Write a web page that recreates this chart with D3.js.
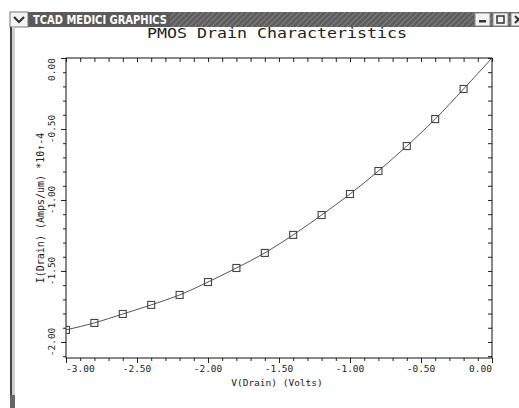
<!DOCTYPE html>
<html>
<head>
<meta charset="utf-8">
<script src="https://cdn.jsdelivr.net/npm/d3@7"></script>
<style>
  html, body { margin: 0; padding: 0; background: #fff; }
  svg { display: block; }
</style>
</head>
<body>
<svg id="chart" width="519" height="408"></svg>
<script>
// Drain voltage sweep (V) and simulated drain current (A/um, in units of 1e-4)
const drainVoltage = [-3.0, -2.8, -2.6, -2.4, -2.2, -2.0, -1.8, -1.6, -1.4, -1.2, -1.0, -0.8, -0.6, -0.4, -0.2, 0.0];
const drainCurrent = [-1.915, -1.866, -1.803, -1.739, -1.669, -1.578, -1.479, -1.373, -1.246, -1.106, -0.958, -0.796, -0.620, -0.430, -0.218, 0.0];

const xMajorTicks = [-3.0, -2.5, -2.0, -1.5, -1.0, -0.5, 0.0];
const yMajorTicks = [0.0, -0.5, -1.0, -1.5, -2.0];

const chartTitle = "PMOS Drain Characteristics";
const xTitle = "V(Drain) (Volts)";
const yTitle = "I(Drain) (Amps/um) *10\u2191-4";
const windowTitle = "TCAD MEDICI GRAPHICS";

const svg = d3.select("#chart");
const W = 519, H = 408;
const plot = { left: 66, right: 492, top: 58, bottom: 358 };
const mono = "'DejaVu Sans Mono', 'Liberation Mono', monospace";

// ---- window frame ----
const defs = svg.append("defs");
const hatch = defs.append("pattern")
  .attr("id", "hatch").attr("width", 4).attr("height", 4)
  .attr("patternUnits", "userSpaceOnUse")
  .attr("patternTransform", "rotate(45)");
hatch.append("rect").attr("width", 4).attr("height", 4).attr("fill", "#5e5e5e");
hatch.append("line").attr("x1", 0).attr("y1", 0).attr("x2", 0).attr("y2", 4)
  .attr("stroke", "#8c8c8c").attr("stroke-width", 1.5);

const bar = svg.append("g");
bar.append("rect").attr("x", 10).attr("y", 12).attr("width", W - 10).attr("height", 15).attr("fill", "url(#hatch)");
bar.append("rect").attr("x", 28).attr("y", 12).attr("width", 142).attr("height", 15).attr("fill", "#5a5a5a");
bar.append("rect").attr("x", 10).attr("y", 12).attr("width", 18).attr("height", 15).attr("fill", "#f4f4f4").attr("stroke", "#777");
bar.append("path").attr("d", "M14,17 L19,22 L24,17").attr("fill", "none").attr("stroke", "#333").attr("stroke-width", 2.2);
bar.append("text").attr("x", 33).attr("y", 24).attr("fill", "#fff")
  .attr("font-family", "'DejaVu Sans', Verdana, sans-serif").attr("font-weight", "bold")
  .attr("font-size", 11.5).attr("textLength", 134).attr("lengthAdjust", "spacingAndGlyphs")
  .text(windowTitle);
// window buttons
[[475, "min"], [493, "max"], [511, "close"]].forEach(([bx, kind]) => {
  bar.append("rect").attr("x", bx).attr("y", 13).attr("width", 15).attr("height", 13)
    .attr("fill", "#f2f2f2").attr("stroke", "#888");
  if (kind === "min") bar.append("rect").attr("x", bx + 4).attr("y", 20).attr("width", 7).attr("height", 2.5).attr("fill", "#333");
  if (kind === "max") bar.append("rect").attr("x", bx + 4).attr("y", 16).attr("width", 7).attr("height", 7)
    .attr("fill", "none").attr("stroke", "#333").attr("stroke-width", 1.5);
  if (kind === "close") bar.append("path").attr("d", `M${bx + 4},16 L${bx + 11},23 M${bx + 11},16 L${bx + 4},23`)
    .attr("stroke", "#333").attr("stroke-width", 2);
});
// left frame edge
svg.append("rect").attr("x", 10).attr("y", 27).attr("width", 2).attr("height", H - 27).attr("fill", "#444");
svg.append("rect").attr("x", 12).attr("y", 27).attr("width", 3).attr("height", H - 27).attr("fill", "#cfcfcf");
svg.append("rect").attr("x", 10).attr("y", 395).attr("width", 5).attr("height", 13).attr("fill", "#666");

// ---- scales ----
const x = d3.scaleLinear().domain([-3.0, 0.0]).range([plot.left, plot.right]);
const y = d3.scaleLinear().domain([-2.113, 0.0]).range([plot.bottom, plot.top]);

const fmt = d3.formatLocale({ decimal: ".", thousands: ",", grouping: [3], currency: ["", ""], minus: "-" }).format(".2f");

const xMinor = d3.range(-30, 1).map(d => d / 10);
const yMinor = d3.range(-21, 1).map(d => d / 10);

const axisStyle = g => {
  g.select(".domain").remove();
  g.selectAll("line").attr("stroke", "#222");
};

// minor and major ticks: bottom/left point outward, top/right point inward
svg.append("g").attr("transform", `translate(0,${plot.bottom})`)
  .call(d3.axisBottom(x).tickValues(xMinor).tickSize(3).tickFormat("")).call(axisStyle);
svg.append("g").attr("transform", `translate(0,${plot.bottom})`)
  .call(d3.axisBottom(x).tickValues(xMajorTicks).tickSize(5).tickFormat("")).call(axisStyle);
svg.append("g").attr("transform", `translate(0,${plot.top})`)
  .call(d3.axisBottom(x).tickValues(xMinor).tickSize(4).tickFormat("")).call(axisStyle);
svg.append("g").attr("transform", `translate(${plot.left},0)`)
  .call(d3.axisLeft(y).tickValues(yMinor).tickSize(3).tickFormat("")).call(axisStyle);
svg.append("g").attr("transform", `translate(${plot.left},0)`)
  .call(d3.axisLeft(y).tickValues(yMajorTicks).tickSize(5).tickFormat("")).call(axisStyle);
svg.append("g").attr("transform", `translate(${plot.right},0)`)
  .call(d3.axisLeft(y).tickValues(yMinor).tickSize(4).tickFormat("")).call(axisStyle);

// frame
svg.append("rect").attr("x", plot.left).attr("y", plot.top)
  .attr("width", plot.right - plot.left).attr("height", plot.bottom - plot.top)
  .attr("fill", "none").attr("stroke", "#111").attr("stroke-width", 1);

// x tick labels
svg.append("g").selectAll("text").data(xMajorTicks).join("text")
  .attr("x", d => x(d)).attr("y", plot.bottom + 14)
  .attr("text-anchor", (d, i) => i === 0 ? "start" : i === xMajorTicks.length - 1 ? "end" : "middle")
  .attr("font-family", mono).attr("font-size", 9.5).attr("fill", "#222")
  .text(d => fmt(d));

// y tick labels, rotated
svg.append("g").selectAll("text").data(yMajorTicks).join("text")
  .attr("transform", d => `translate(${plot.left - 11},${y(d)}) rotate(-90)`)
  .attr("text-anchor", d => d === 0 ? "end" : "middle")
  .attr("font-family", mono).attr("font-size", 9.5).attr("fill", "#222")
  .text(d => fmt(d));

// axis titles
svg.append("text").attr("x", (plot.left + plot.right) / 2 - 2).attr("y", plot.bottom + 28)
  .attr("text-anchor", "middle").attr("font-family", mono).attr("font-size", 9.5).attr("fill", "#222")
  .text(xTitle);
svg.append("text")
  .attr("transform", `translate(44,${(plot.top + plot.bottom) / 2}) rotate(-90)`)
  .attr("text-anchor", "middle").attr("font-family", mono).attr("font-size", 10).attr("fill", "#222")
  .text(yTitle);

// chart title
svg.append("text").attr("x", 277).attr("y", 38).attr("text-anchor", "middle")
  .attr("font-family", mono).attr("font-size", 14).attr("fill", "#222")
  .attr("textLength", 260).attr("lengthAdjust", "spacingAndGlyphs")
  .text(chartTitle);

// ---- data ----
const data = drainVoltage.map((v, i) => ({ v, i: drainCurrent[i] }));

defs.append("clipPath").attr("id", "plotClip").append("rect")
  .attr("x", plot.left).attr("y", plot.top)
  .attr("width", plot.right - plot.left).attr("height", plot.bottom - plot.top);

const dataG = svg.append("g").attr("clip-path", "url(#plotClip)");

dataG.append("path").datum(data)
  .attr("fill", "none").attr("stroke", "#555").attr("stroke-width", 1)
  .attr("d", d3.line().x(d => x(d.v)).y(d => y(d.i)).curve(d3.curveMonotoneX));

const s = 7;
dataG.selectAll("rect.marker").data(data.filter(d => d.v < 0)).join("rect")
  .attr("class", "marker")
  .attr("x", d => x(d.v) - s / 2).attr("y", d => y(d.i) - s / 2)
  .attr("width", s).attr("height", s)
  .attr("fill", "none").attr("stroke", "#444").attr("stroke-width", 1.1);
</script>
</body>
</html>
